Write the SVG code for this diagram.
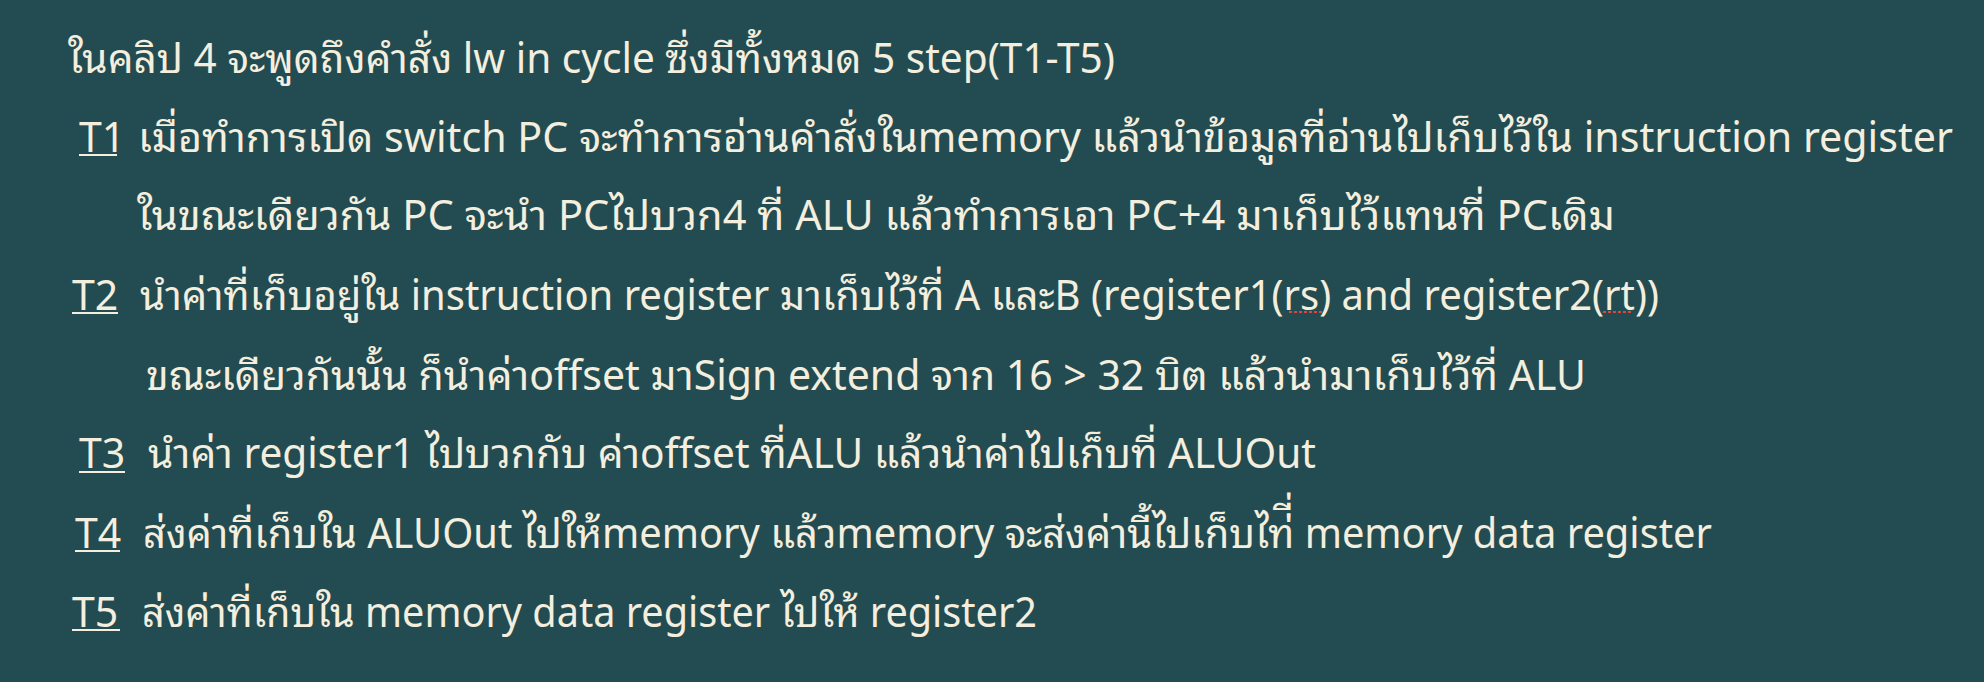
<svg xmlns="http://www.w3.org/2000/svg" width="1984" height="682" viewBox="0 0 1984 682">
<style>
text{font-family:"Noto Sans","Noto Sans Thai Looped","Noto Sans Thai",sans-serif;font-size:41px;fill:#F3EEDD}
.ul{stroke:#F3EEDD;stroke-width:2}
.sp{stroke:#E0443A;stroke-width:2;stroke-dasharray:3 2}
</style>
<rect width="1984" height="682" fill="#234B52"/>
<g id="line1"><text x="68" y="73" textLength="1047" lengthAdjust="spacingAndGlyphs">ในคลิป 4 จะพูดถึงคำสั่ง lw in cycle ซึ่งมีทั้งหมด 5 step(T1-T5)</text></g>
<g id="t1">
<text x="79" y="152">T1</text><line class="ul" x1="79" y1="155" x2="117" y2="155"/>
<text x="138" y="152" textLength="1815" lengthAdjust="spacingAndGlyphs">เมื่อทำการเปิด switch PC จะทำการอ่านคำสั่งในmemory แล้วนำข้อมูลที่อ่านไปเก็บไว้ใน instruction register</text>
<text x="137" y="230" textLength="1478" lengthAdjust="spacingAndGlyphs">ในขณะเดียวกัน PC จะนำ PCไปบวก4 ที่ ALU แล้วทำการเอา PC+4 มาเก็บไว้แทนที่ PCเดิม</text>
</g>
<g id="t2">
<text x="72" y="310">T2</text><line class="ul" x1="72" y1="313" x2="118" y2="313"/>
<text x="140" y="310" textLength="1519" lengthAdjust="spacingAndGlyphs">นำค่าที่เก็บอยู่ใน instruction register มาเก็บไว้ที่ A และB (register1(rs) and register2(rt))</text>
<line class="sp" x1="1289" y1="312" x2="1322" y2="312"/>
<line class="sp" x1="1603" y1="312" x2="1631" y2="312"/>
<text x="146" y="390" textLength="1440" lengthAdjust="spacingAndGlyphs">ขณะเดียวกันนั้น ก็นำค่าoffset มาSign extend จาก 16 &gt; 32 บิต แล้วนำมาเก็บไว้ที่ ALU</text>
</g>
<g id="t3">
<text x="79" y="468">T3</text><line class="ul" x1="79" y1="472" x2="125" y2="472"/>
<text x="148" y="468" textLength="1168" lengthAdjust="spacingAndGlyphs">นำค่า register1 ไปบวกกับ ค่าoffset ที่ALU แล้วนำค่าไปเก็บที่ ALUOut</text>
</g>
<g id="t4">
<text x="75" y="548">T4</text><line class="ul" x1="75" y1="551" x2="120" y2="551"/>
<text x="143" y="548" textLength="1569" lengthAdjust="spacingAndGlyphs">ส่งค่าที่เก็บใน ALUOut ไปให้memory แล้วmemory จะส่งค่านี้ไปเก็บไท่ี่ memory data register</text>
</g>
<g id="t5">
<text x="72" y="627">T5</text><line class="ul" x1="72" y1="630" x2="120" y2="630"/>
<text x="142" y="627" textLength="895" lengthAdjust="spacingAndGlyphs">ส่งค่าที่เก็บใน memory data register ไปให้ register2</text>
</g>
</svg>
